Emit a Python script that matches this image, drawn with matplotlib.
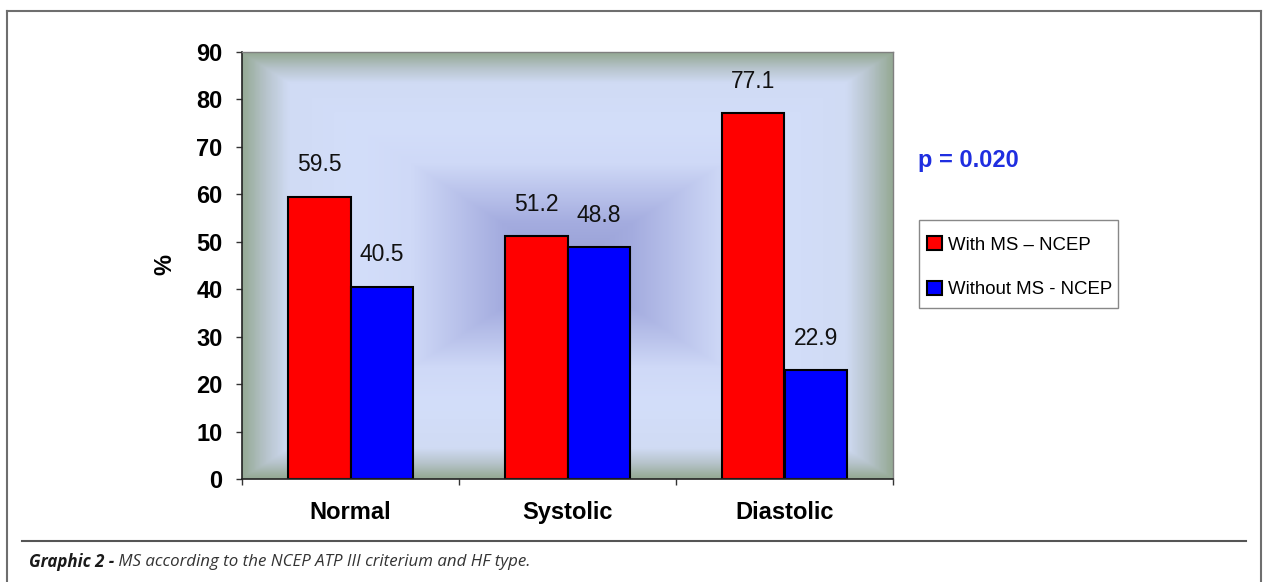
import numpy as np
import matplotlib.pyplot as plt
from matplotlib.colors import LinearSegmentedColormap
from matplotlib.lines import Line2D
from matplotlib.patches import Rectangle

categories = ['Normal', 'Systolic', 'Diastolic']
with_ms = [59.5, 51.2, 77.1]
without_ms = [40.5, 48.8, 22.9]
series_names = ['With MS \u2013 NCEP', 'Without MS - NCEP']
y_ticks = [0, 10, 20, 30, 40, 50, 60, 70, 80, 90]
p_text = 'p = 0.020'
caption_bold = 'Graphic 2 -'
caption_rest = ' MS according to the NCEP ATP III criterium and HF type.'

W, H = 1264, 582
fig = plt.figure(figsize=(W / 100, H / 100), dpi=100)
fig.patch.set_facecolor('white')

# plot area in pixels (left, top, right, bottom)
L, T, R, B = 242, 52, 893, 479
ax = fig.add_axes([L / W, 1 - B / H, (R - L) / W, (B - T) / H])

# rectangular "from center" gradient like the Excel plot area
nx, ny = 400, 260
u = np.abs(np.linspace(-1, 1, nx))[None, :]
v = np.abs(np.linspace(-1, 1, ny))[:, None]
t = np.maximum(u, v)
cmap = LinearSegmentedColormap.from_list('bg', [
    (0.0, '#969ed4'), (0.2, '#a4acdf'), (0.48, '#cfd9f7'),
    (0.65, '#d3defa'), (0.86, '#d0dbf4'), (0.93, '#b7c4cc'), (1.0, '#96aa96')])
ax.imshow(t, cmap=cmap, vmin=0, vmax=1, extent=[0, 3, 0, 90],
          aspect='auto', zorder=0, interpolation='bilinear')

x = np.arange(len(categories)) + 0.5
w = 0.288
b1 = ax.bar(x - w / 2, with_ms, w, color='#ff0000', edgecolor='black',
            linewidth=1.5, zorder=2, label=series_names[0])
b2 = ax.bar(x + w / 2, without_ms, w, color='#0000ff', edgecolor='black',
            linewidth=1.5, zorder=2, label=series_names[1])

for bars, vals in [(b1, with_ms), (b2, without_ms)]:
    for rect, val in zip(bars, vals):
        ax.annotate(f'{val:.1f}', (rect.get_x() + rect.get_width() / 2, val),
                    xytext=(0, 23), textcoords='offset points',
                    ha='center', va='center', fontsize=16.5,
                    family='Liberation Sans', color='#111111')

ax.set_xlim(0, 3)
ax.set_ylim(0, 90)
ax.set_yticks(y_ticks)
ax.set_yticklabels([str(v) for v in y_ticks], fontsize=17,
                   fontweight='bold', family='Liberation Sans')
ax.tick_params(axis='y', length=4.5, width=1, pad=9.5, color='#333333')
ax.set_xticks([0, 1, 2, 3])
ax.set_xticklabels([])
ax.tick_params(axis='x', which='major', length=4.5, width=1, color='#333333')
ax.set_xticks(x, minor=True)
ax.set_xticklabels(categories, minor=True, fontsize=17,
                   fontweight='bold', family='Liberation Sans')
ax.tick_params(axis='x', which='minor', length=0, pad=15.5)

for s in ['left', 'bottom']:
    ax.spines[s].set_color('#222222')
    ax.spines[s].set_linewidth(1.2)
for s in ['top', 'right']:
    ax.spines[s].set_color('#7f7f7f')
    ax.spines[s].set_linewidth(1.0)

fig.text(165 / W, 1 - 265 / H, '%', rotation=90, ha='center', va='center',
         fontsize=17, fontweight='bold', family='Liberation Sans')

fig.text(918 / W, 1 - 160 / H, p_text, ha='left', va='center', fontsize=17,
         fontweight='bold', family='Liberation Sans', color='#1f2ee0')

# legend box drawn by hand, entries placed inside it
fig.add_artist(Rectangle((919 / W, 1 - 308 / H), 199 / W, 88 / H,
                         transform=fig.transFigure, facecolor='white',
                         edgecolor='#888888', lw=1.0, zorder=3))
leg = fig.legend(handles=[b1, b2], loc='upper left',
                 bbox_to_anchor=(927 / W, 1 - 236 / H),
                 prop={'family': 'Liberation Sans', 'size': 13.4},
                 frameon=False,
                 handlelength=0.8, handleheight=0.8, handletextpad=0.35,
                 labelspacing=1.45, borderpad=0, borderaxespad=0)
leg.set_zorder(4)

# outer frame and caption rule
fig.add_artist(Line2D([7 / W, 7 / W], [0, 1 - 11 / H], color='#6e6e6e', lw=1.5))
fig.add_artist(Line2D([7 / W, 1261 / W], [1 - 11 / H, 1 - 11 / H], color='#6e6e6e', lw=1.5))
fig.add_artist(Line2D([1261 / W, 1261 / W], [0, 1 - 11 / H], color='#6e6e6e', lw=1.5))
fig.add_artist(Line2D([22 / W, 1246 / W], [1 - 541 / H, 1 - 541 / H], color='#555555', lw=1.5))

cap1 = fig.text(29 / W, 1 - 562 / H, caption_bold, ha='left', va='center',
                fontsize=12.2, fontweight='bold', style='italic',
                family='Open Sans', color='#1a1a1a')
fig.canvas.draw()
bb = cap1.get_window_extent()
fig.text(bb.x1 / W, 1 - 562 / H, caption_rest, ha='left', va='center',
         fontsize=12.2, style='italic', family='Open Sans', color='#333333')

fig.savefig('out.png', dpi=100)
